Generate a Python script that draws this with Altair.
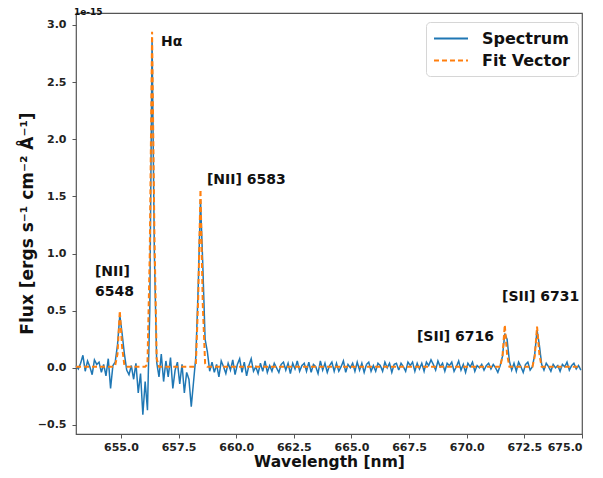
import altair as alt
import pandas as pd

# wavelength sampling of the spectrum (nm)
wl_start = 653.05
wl_step = 0.1

# observed spectrum (x 1e-15 ergs s^-1 cm^-2 A^-1)
spectrum = [
    0.02, -0.01, 0.04, 0.11, -0.03, 0.06, 0.01, -0.06, 0.07, 0.03,
    0.05, -0.04, 0.03, -0.07, 0.08, -0.18, 0.02, 0.05, 0.20, 0.46,
    0.30, 0.12, -0.02, -0.06, 0.02, -0.10, 0.04, -0.22, -0.05, -0.41,
    -0.12, -0.37, 0.50, 2.88, 1.00, 0.05, -0.08, 0.12, -0.12, 0.06,
    -0.08, 0.09, -0.18, -0.02, 0.05, -0.14, 0.03, -0.22, -0.04, -0.10,
    -0.34, -0.12, 0.10, 0.70, 1.47, 0.90, 0.25, 0.14, -0.03, 0.05,
    -0.04, 0.03, -0.08, 0.06, 0.01, -0.05, 0.04, -0.02, 0.07, -0.06,
    0.03, 0.08, -0.04, 0.05, -0.07, 0.02, 0.08, -0.03, 0.01, -0.05,
    0.04, -0.03, 0.06, -0.04, 0.02, -0.03, 0.04, 0.00, -0.04, 0.03,
    0.05, -0.02, 0.04, -0.05, 0.04, -0.01, 0.06, -0.03, 0.02, 0.04,
    -0.03, 0.05, -0.04, 0.03, 0.01, -0.05, 0.06, -0.02, 0.04, -0.04,
    0.02, 0.05, -0.03, 0.04, -0.03, 0.01, 0.06, -0.04, 0.03, 0.00,
    0.04, -0.03, 0.05, -0.02, 0.04, -0.04, 0.03, 0.05, -0.03, 0.02,
    -0.03, 0.04, 0.02, -0.03, 0.05, 0.00, 0.04, -0.04, 0.03, 0.04,
    -0.02, 0.04, 0.01, -0.03, 0.05, 0.02, 0.05, -0.03, 0.04, -0.01,
    0.04, -0.03, 0.05, 0.02, 0.07, 0.03, -0.02, 0.06, 0.01, 0.04,
    -0.03, 0.04, 0.02, 0.05, -0.03, 0.01, 0.06, -0.02, 0.03, -0.04,
    0.04, 0.01, 0.05, -0.03, 0.02, 0.00, 0.03, -0.02, 0.02, 0.04,
    -0.01, 0.03, 0.00, -0.04, 0.02, 0.10, 0.30, 0.25, 0.06, -0.02,
    0.04, -0.03, 0.05, 0.01, -0.04, 0.03, 0.05, -0.02, 0.01, 0.12,
    0.33, 0.20, 0.03, -0.02, 0.04, 0.01, -0.03, 0.03, 0.00, 0.02,
    -0.03, 0.03, 0.01, 0.05, -0.02, 0.02, 0.04, -0.01, 0.02, -0.02,
]

# fitted model
fit_vector = [
    0.01, 0.01, 0.01, 0.01, 0.01, 0.01, 0.01, 0.01, 0.01, 0.01,
    0.01, 0.01, 0.01, 0.01, 0.01, 0.01, 0.01, 0.02, 0.12, 0.50,
    0.18, 0.02, 0.01, 0.01, 0.01, 0.01, 0.01, 0.01, 0.01, 0.01,
    0.01, 0.03, 1.00, 2.94, 1.20, 0.08, 0.01, 0.01, 0.01, 0.01,
    0.01, 0.01, 0.01, 0.01, 0.01, 0.01, 0.01, 0.01, 0.01, 0.01,
    0.01, 0.01, 0.03, 0.60, 1.56, 0.55, 0.04, 0.01, 0.01, 0.01,
    0.01, 0.01, 0.01, 0.01, 0.01, 0.01, 0.01, 0.01, 0.01, 0.01,
    0.01, 0.01, 0.01, 0.01, 0.01, 0.01, 0.01, 0.01, 0.01, 0.01,
    0.01, 0.01, 0.01, 0.01, 0.01, 0.01, 0.01, 0.01, 0.01, 0.01,
    0.01, 0.01, 0.01, 0.01, 0.01, 0.01, 0.01, 0.01, 0.01, 0.01,
    0.01, 0.01, 0.01, 0.01, 0.01, 0.01, 0.01, 0.01, 0.01, 0.01,
    0.01, 0.01, 0.01, 0.01, 0.01, 0.01, 0.01, 0.01, 0.01, 0.01,
    0.01, 0.01, 0.01, 0.01, 0.01, 0.01, 0.01, 0.01, 0.01, 0.01,
    0.01, 0.01, 0.01, 0.01, 0.01, 0.01, 0.01, 0.01, 0.01, 0.01,
    0.01, 0.01, 0.01, 0.01, 0.01, 0.01, 0.01, 0.01, 0.01, 0.01,
    0.01, 0.01, 0.01, 0.01, 0.01, 0.01, 0.01, 0.01, 0.01, 0.01,
    0.01, 0.01, 0.01, 0.01, 0.01, 0.01, 0.01, 0.01, 0.01, 0.01,
    0.01, 0.01, 0.01, 0.01, 0.01, 0.01, 0.01, 0.01, 0.01, 0.01,
    0.01, 0.01, 0.01, 0.01, 0.01, 0.10, 0.375, 0.12, 0.01, 0.01,
    0.01, 0.01, 0.01, 0.01, 0.01, 0.01, 0.01, 0.01, 0.01, 0.10,
    0.36, 0.12, 0.01, 0.01, 0.01, 0.01, 0.01, 0.01, 0.01, 0.01,
    0.01, 0.01, 0.01, 0.01, 0.01, 0.01, 0.01, 0.01, 0.01, 0.01,
]

wavelength = [round(wl_start + wl_step * i, 2) for i in range(len(spectrum))]

series_names = ["Spectrum", "Fit Vector"]
series_colors = ["#1f77b4", "#ff7f0e"]

ann_text = ["Hα", "[NII] 6583", "[NII]", "6548", "[SII] 6716", "[SII] 6731"]
ann_x = [656.74, 658.73, 653.87, 653.87, 667.84, 671.53]
ann_y = [2.85, 1.64, 0.84, 0.66, 0.27, 0.62]

x_ticks = [655.0, 657.5, 660.0, 662.5, 665.0, 667.5, 670.0, 672.5, 675.0]
y_ticks = [-0.5, 0.0, 0.5, 1.0, 1.5, 2.0, 2.5, 3.0]

df = pd.DataFrame({
    "wavelength": wavelength * 2,
    "flux": spectrum + fit_vector,
    "series": ["Spectrum"] * len(spectrum) + ["Fit Vector"] * len(fit_vector),
})
ann = pd.DataFrame({"text": ann_text, "x": ann_x, "y": ann_y})

x_enc = alt.X("wavelength:Q",
              scale=alt.Scale(domain=[653.05, 675.0], nice=False, zero=False),
              axis=alt.Axis(values=x_ticks, format=".1f", title="Wavelength [nm]",
                            labelPadding=3, titlePadding=2, titleFontSize=15.5))
y_enc = alt.Y("flux:Q",
              scale=alt.Scale(domain=[-0.579, 3.105], nice=False, zero=False),
              axis=alt.Axis(values=y_ticks, format=".1f", labelPadding=6,
                            title="Flux [ergs s⁻¹ cm⁻² Å⁻¹]", titleX=-49, titleY=210,
                            titleBaseline="middle", titleAngle=270))


def make_legend():
    return alt.Legend(title=None, orient="none", legendX=350, legendY=9,
                      symbolType="M-1,0H3", symbolSize=289, symbolStrokeWidth=2,
                      labelFontSize=16, labelFontWeight="bold", labelFont="DejaVu Sans",
                      labelOffset=30, padding=7, rowPadding=4, strokeColor="#d6d6d6",
                      fillColor="white", cornerRadius=4, labelColor="#111",
                      symbolFillColor="transparent")


color_enc = alt.Color("series:N",
                      scale=alt.Scale(domain=series_names, range=series_colors),
                      legend=make_legend())
dash_enc = alt.StrokeDash("series:N",
                          scale=alt.Scale(domain=series_names, range=[[1, 0], [5, 3]]),
                          legend=make_legend())

spec_layer = alt.Chart(df).transform_filter(alt.datum.series == "Spectrum").mark_line(
    strokeWidth=1.5).encode(x=x_enc, y=y_enc, color=color_enc, strokeDash=dash_enc)
fit_layer = alt.Chart(df).transform_filter(alt.datum.series == "Fit Vector").mark_line(
    strokeWidth=2).encode(x=x_enc, y=y_enc, color=color_enc, strokeDash=dash_enc)

text_layer = alt.Chart(ann).mark_text(align="left", baseline="middle", fontSize=14,
                                      fontWeight="bold", font="DejaVu Sans",
                                      color="#111").encode(
    x="x:Q", y="y:Q", text="text:N")

chart = alt.layer(spec_layer, fit_layer, text_layer).properties(
    width=506, height=421,
    autosize=alt.AutoSizeParams(type="none"),
    padding={"left": 68, "top": 5, "right": 13, "bottom": 36},
    title=alt.TitleParams("1e-15", anchor="start", frame="group", fontSize=9,
                          fontWeight="bold", font="DejaVu Sans", offset=0, dy=4, dx=-2,
                          color="#111"),
).configure_view(stroke="#555", strokeWidth=1.2).configure_axis(
    grid=False, domain=False, tickSize=4, tickColor="#555", tickWidth=1,
    labelFont="DejaVu Sans", labelFontWeight="bold", labelFontSize=11, labelColor="#222",
    titleFont="DejaVu Sans", titleFontWeight="bold", titleFontSize=17,
    titleColor="#111",
)

chart.save("out.html", embed_options={"renderer": "svg", "actions": False})
